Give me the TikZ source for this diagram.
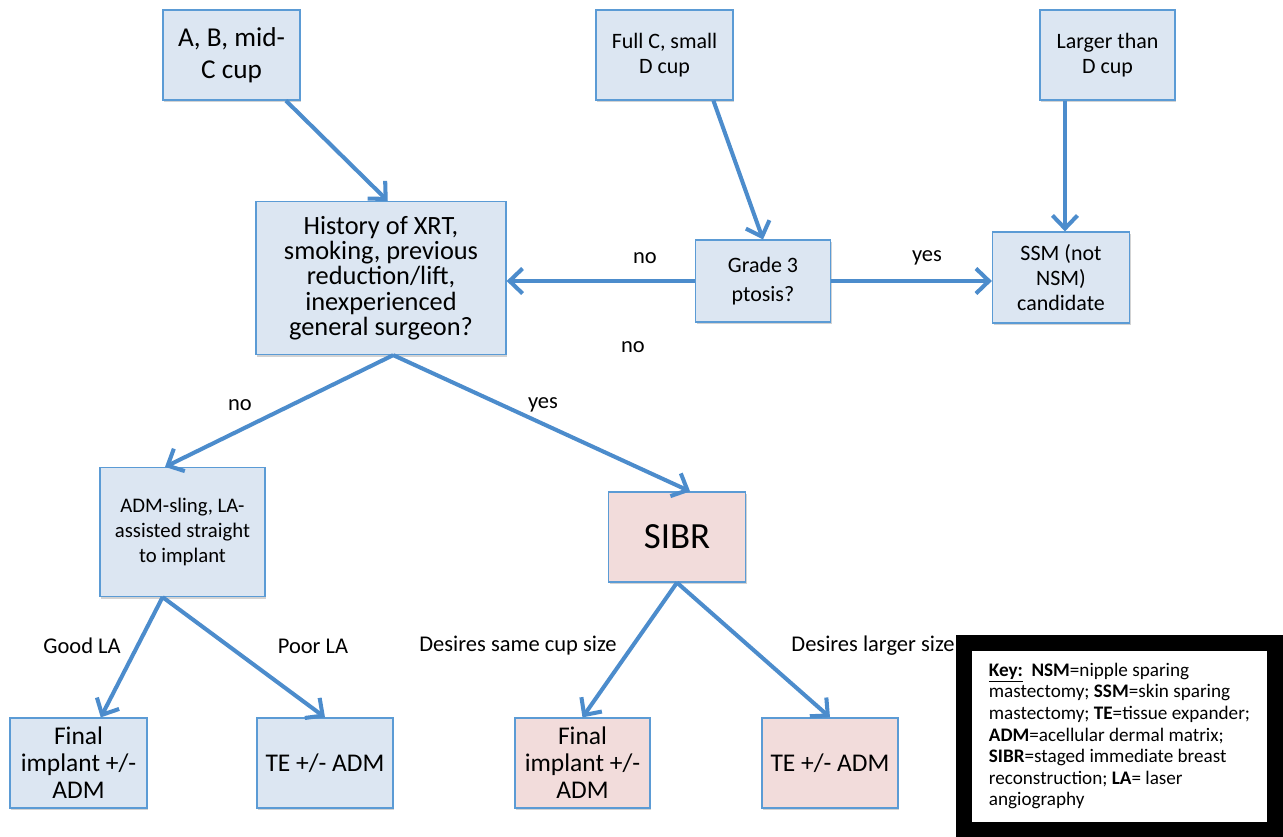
\documentclass[tikz,border=0pt]{standalone}
\usepackage{fontspec}
\setmainfont{Carlito}
\usetikzlibrary{arrows.meta,shadows}
\definecolor{boxline}{RGB}{91,155,213}
\definecolor{flowline}{RGB}{76,140,204}
\definecolor{boxblue}{RGB}{220,230,242}
\definecolor{boxpink}{RGB}{242,220,219}
\tikzset{
  flowbox/.style = {draw=boxline, line width=0.7pt, align=center, inner sep=2pt,
    drop shadow={opacity=0.35, shadow xshift=0.7pt, shadow yshift=-1.3pt},
    font=\fontsize{12.5}{14.4}\selectfont},
  bluebox/.style = {flowbox, fill=boxblue},
  pinkbox/.style = {flowbox, fill=boxpink},
  bigtext/.style = {font=\fontsize{14.5}{15.4}\selectfont},
  flow/.style = {draw=flowline, line width=2.3pt,
    -{Straight Barb[length=2.6mm,width=5mm]}},
  lbl/.style = {font=\fontsize{12.8}{14.4}\selectfont},
}

\begin{document}
\begin{tikzpicture}[x=0.2mm,y=-0.2mm]
    \useasboundingbox (0,0) rectangle (1283,836);

    \node[bluebox, minimum width=27.4mm, minimum height=18mm, font=\fontsize{15.5}{18.5}\selectfont] (cupA) at (231.5,55) {A, B, mid-\\C cup};
    \node[bluebox, minimum width=27.4mm, minimum height=18mm] (cupC) at (664.5,55) {Full C, small\\D cup};
    \node[bluebox, minimum width=27mm, minimum height=18mm] (cupD) at (1107.5,55) {Larger than\\D cup};

    \node[bluebox, minimum width=50mm, minimum height=30.6mm, font=\fontsize{15}{14.4}\selectfont] (hist) at (381,278)
      {History of XRT,\\smoking, previous\\reduction/lift,\\inexperienced\\general surgeon?};
    \node[bluebox, minimum width=27mm, minimum height=16.4mm, font=\fontsize{12.5}{16.5}\selectfont] (grade) at (763,281) {Grade 3\\ptosis?};
    \node[bluebox, minimum width=27.4mm, minimum height=18.2mm] (ssm) at (1061,277.5) {SSM (not\\NSM)\\candidate};

    \node[bluebox, minimum width=33mm, minimum height=25.8mm, font=\fontsize{11.8}{14.2}\selectfont] (adm) at (182.5,532)
      {ADM-sling, LA-\\assisted straight\\to implant};
    \node[pinkbox, minimum width=27.4mm, minimum height=18mm, font=\fontsize{21}{24}\selectfont] (sibr) at (677,537) {SIBR};

    \node[bluebox, bigtext, minimum width=27.4mm, minimum height=18mm] (fin1) at (78.5,763) {Final\\implant +/-\\ADM};
    \node[bluebox, bigtext, minimum width=27.2mm, minimum height=18mm] (te1) at (325,763) {TE +/- ADM};
    \node[pinkbox, bigtext, minimum width=27mm, minimum height=18mm] (fin2) at (582.5,763) {Final\\implant +/-\\ADM};
    \node[pinkbox, bigtext, minimum width=27.2mm, minimum height=18mm] (te2) at (830,763) {TE +/- ADM};

    \draw[flow] (cupA.-40) -- (hist.85);
    \draw[flow] (cupC.-43) -- (grade.north);
    \draw[flow] (cupD.-133) -- (cupD.-133 |- ssm.north);
    \draw[flow] (grade.west) -- (grade.west -| hist.east);
    \draw[flow] (grade.east) -- (grade.east -| ssm.west);
    \draw[flow] (hist.-81) -- (adm.105);
    \draw[flow] (hist.-81) -- (sibr.74);
    \draw[flow] (adm.-107) -- (fin1.64);
    \draw[flow] (adm.-107) -- (te1.north);
    \draw[flow] (sibr.south) -- (fin2.north);
    \draw[flow] (sibr.south) -- (te2.north);

    \node[lbl] (noA) at (645,258) {no};
    \node[lbl] (yesA) at (927,258) {yes};
    \node[lbl] (noB) at (633,347) {no};
    \node[lbl] (noC) at (240,405) {no};
    \node[lbl] (yesC) at (543,405) {yes};
    \node[lbl] (good) at (82,646) {Good LA};
    \node[lbl] (poor) at (313,646) {Poor LA};
    \node[lbl] (same) at (518,646) {Desires same cup size};
    \node[lbl] (larger) at (873,646) {Desires larger size};

    \node[draw=black, line width=3.2mm, fill=white, minimum width=62.2mm, minimum height=37.4mm,
      align=left, font=\fontsize{10.9}{12.3}\selectfont] (key) at (1119.5,736)
      {\underline{\textbf{Key:}}\ \ \textbf{NSM}=nipple sparing\\
       mastectomy; \textbf{SSM}=skin sparing\\
       mastectomy; \textbf{TE}=tissue expander;\\
       \textbf{ADM}=acellular dermal matrix;\\
       \textbf{SIBR}=staged immediate breast\\
       reconstruction; \textbf{LA}= laser\\
       angiography};
\end{tikzpicture}
\end{document}
